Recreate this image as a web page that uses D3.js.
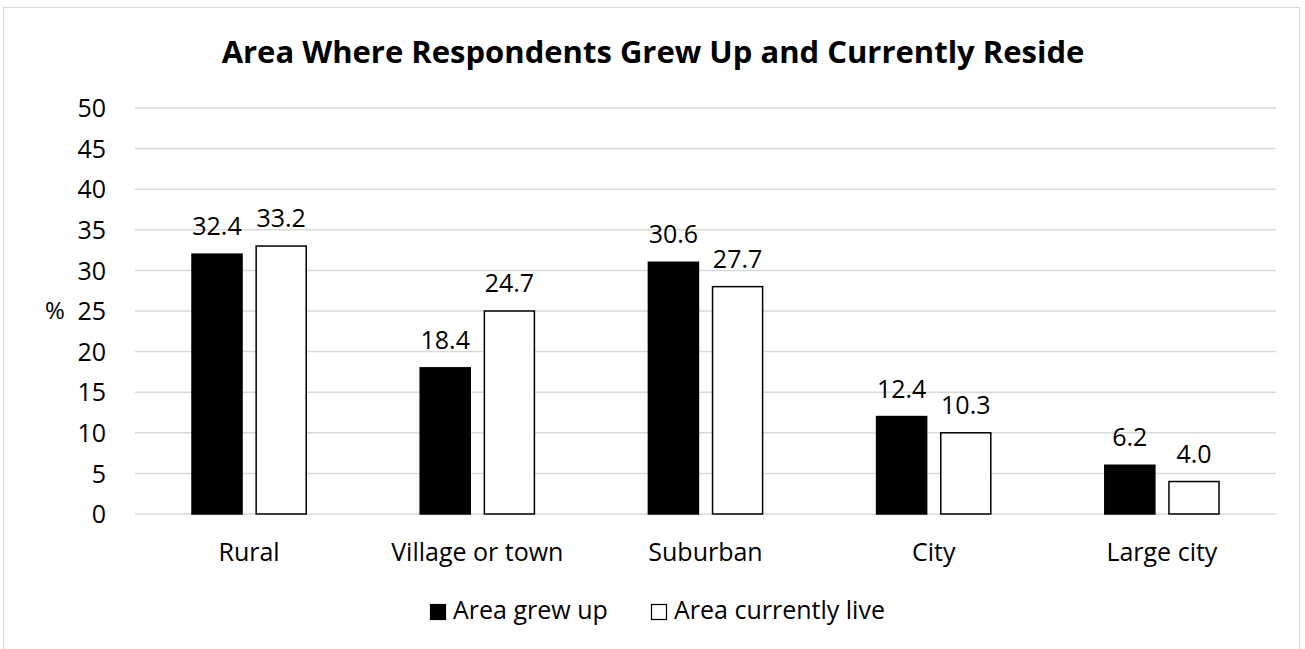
<!DOCTYPE html>
<html>
<head>
<meta charset="utf-8">
<script src="https://cdn.jsdelivr.net/npm/d3@7.9.0/dist/d3.min.js"></script>
<style>
  body { margin: 0; background: #fff; }
  svg { font-family: "Open Sans", Lato, sans-serif; }
</style>
</head>
<body>
<svg id="chart" width="1305" height="649"></svg>
<script>
// data
const categories = ['Rural', 'Village or town', 'Suburban', 'City', 'Large city'];
const seriesNames = ['Area grew up', 'Area currently live'];
const grewUp = [32, 18, 31, 12, 6];
const currentlyLive = [33, 25, 28, 10, 4];
const grewUpLabels = ['32.4', '18.4', '30.6', '12.4', '6.2'];
const currentlyLabels = ['33.2', '24.7', '27.7', '10.3', '4.0'];
const yTicks = [0, 5, 10, 15, 20, 25, 30, 35, 40, 45, 50];

const svg = d3.select('#chart');

// outer frame
svg.append('rect')
  .attr('x', 3.5).attr('y', 7.5)
  .attr('width', 1296).attr('height', 650)
  .attr('fill', 'none').attr('stroke', '#d9d9d9').attr('stroke-width', 1);

const margin = { left: 135, right: 1276, top: 108, bottom: 514 };

const x = d3.scaleBand().domain(categories).range([margin.left, margin.right]);
const y = d3.scaleLinear().domain([0, 50]).range([margin.bottom, margin.top]);

/* title */
svg.append('text')
  .attr('x', 653).attr('y', 63)
  .attr('text-anchor', 'middle')
  .attr('font-size', 31).attr('font-weight', 'bold')
  .text('Area Where Respondents Grew Up and Currently Reside');

// gridlines
svg.append('g').selectAll('line')
  .data(yTicks)
  .enter().append('line')
  .attr('x1', margin.left).attr('x2', margin.right)
  .attr('y1', d => y(d)).attr('y2', d => y(d))
  .attr('stroke', '#d9d9d9').attr('stroke-width', 1.5);

// y axis labels
const yAxis = svg.append('g')
  .attr('transform', `translate(${margin.left - 29},0)`)
  .call(d3.axisLeft(y).tickValues(yTicks).tickSize(0).tickPadding(0));
yAxis.select('.domain').remove();
yAxis.selectAll('text')
  .attr('font-size', 25).attr('font-family', '"Open Sans", sans-serif')
  .attr('fill', '#000').attr('dy', '0.35em');

svg.append('text')
  .attr('x', 55).attr('y', y(25)).attr('dy', '0.35em')
  .attr('text-anchor', 'middle').attr('font-size', 24)
  .text('%');

// bars: 50px wide with 14px gap inside each category
const inner = d3.scaleBand().domain([0, 1])
  .range([57, x.bandwidth() - 57]).paddingInner(0.22);

const series = [
  { values: grewUp, labels: grewUpLabels, fill: '#000' },
  { values: currentlyLive, labels: currentlyLabels, fill: '#fff' }
];

series.forEach((s, si) => {
  const g = svg.append('g');
  g.selectAll('rect')
    .data(s.values)
    .enter().append('rect')
    .attr('x', (d, i) => x(categories[i]) + inner(si))
    .attr('y', d => y(d))
    .attr('width', inner.bandwidth())
    .attr('height', d => y(0) - y(d))
    .attr('fill', s.fill)
    .attr('stroke', '#000').attr('stroke-width', 1.5);

  g.selectAll('text')
    .data(s.values)
    .enter().append('text')
    .attr('x', (d, i) => x(categories[i]) + inner(si) + inner.bandwidth() / 2)
    .attr('y', d => y(d) - 19)
    .attr('text-anchor', 'middle')
    .attr('font-size', 25)
    .text((d, i) => s.labels[i]);
});

// x axis labels
svg.append('g').selectAll('text')
  .data(categories)
  .enter().append('text')
  .attr('x', d => x(d) + x.bandwidth() / 2)
  .attr('y', 561)
  .attr('text-anchor', 'middle')
  .attr('font-size', 25)
  .text(d => d);

// legend
const legendX = [430, 651];
const legend = svg.append('g');
seriesNames.forEach((name, i) => {
  legend.append('rect')
    .attr('x', legendX[i] + 0.5).attr('y', 604.5)
    .attr('width', 15).attr('height', 15)
    .attr('fill', series[i].fill).attr('stroke', '#000').attr('stroke-width', 1.2);
  legend.append('text')
    .attr('x', legendX[i] + 23).attr('y', 619)
    .attr('font-size', 25)
    .text(name);
});
</script>
</body>
</html>
